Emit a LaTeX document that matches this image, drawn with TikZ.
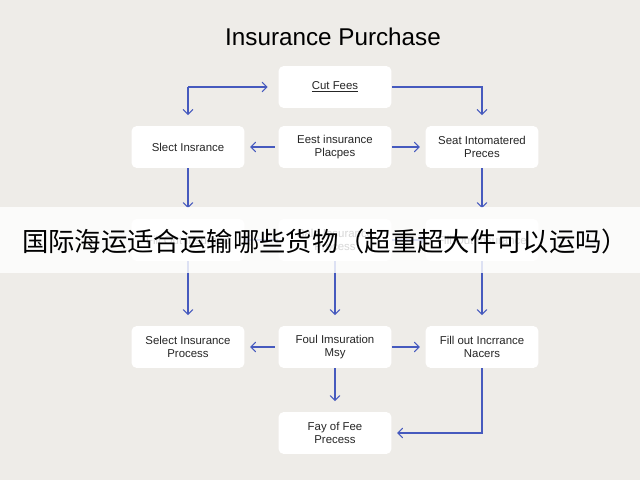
\documentclass[tikz,border=0pt]{standalone}
\usepackage{fontspec}
\setmainfont{Liberation Sans}
\newfontfamily\cjk{Noto Sans CJK SC}
\usetikzlibrary{arrows}
\definecolor{paper}{RGB}{238,236,232}
\definecolor{linkblue}{RGB}{70,90,190}
\tikzstyle{box} = [rectangle, rounded corners=3pt, minimum width=2.26cm, minimum height=0.84cm, text centered, align=center, fill=white, font=\fontsize{6.5}{7.5}\selectfont, text=black!85]
\tikzstyle{arrow} = [draw=linkblue, semithick, ->, >=angle 90]

\begin{document}
\begin{tikzpicture}[x=0.02cm, y=-0.02cm]
\fill[paper] (0,0) rectangle (640,480);
\useasboundingbox (0,0) rectangle (640,480);

\node (title) at (333,37) {\fontsize{13.8}{15}\selectfont Insurance Purchase};

% Row 1
\node (cutFees) [box] at (335,87) {\underline{Cut Fees}};

% Row 2
\node (selInsr) [box] at (188,147) {Slect Insrance};
\node (eastIns) [box] at (335,147) {Eest insurance\\Placpes};
\node (seatInt) [box] at (482,147) {Seat Intomatered\\Preces};

% Row 3 (under the banner)
\node (fillOutA) [box] at (188,240) {Fill Out Insurand};
\node (saleIns) [box] at (335,240) {Sale Insurance\\Process};
\node (fillOutB) [box] at (482,240) {Fill Out Insurance};

% Row 4
\node (selProc) [box] at (188,347) {Select Insurance\\Process};
\node (foulIns) [box] at (335,347) {Foul Imsuration\\Msy};
\node (fillNac) [box] at (482,347) {Fill out Incrrance\\Nacers};

% Row 5
\node (payFee) [box] at (335,433) {Fay of Fee\\Precess};

\coordinate (cornerL) at (188,87);

% Row 1 - Arrows
\draw [arrow] (cornerL) -- ([xshift=-6pt]cutFees.west);
\draw [arrow] (cornerL) -- ([yshift=6pt]selInsr.north);
\draw [arrow] (cutFees.east) -| ([yshift=6pt]seatInt.north);

% Row 2 - Arrows
\draw [arrow] ([xshift=-2pt]eastIns.west) -- ([xshift=3pt]selInsr.east);
\draw [arrow] (eastIns.east) -- ([xshift=-3pt]seatInt.west);
\draw [arrow] (selInsr) -- ([yshift=6pt]fillOutA.north);
\draw [arrow] (seatInt) -- ([yshift=6pt]fillOutB.north);

% Row 3 - Arrows
\draw [arrow] (saleIns.west) -- (fillOutA.east);
\draw [arrow] (saleIns.east) -- (fillOutB.west);
\draw [arrow] (fillOutA) -- ([yshift=6pt]selProc.north);
\draw [arrow] (saleIns) -- ([yshift=6pt]foulIns.north);
\draw [arrow] (fillOutB) -- ([yshift=6pt]fillNac.north);

% Row 4 - Arrows
\draw [arrow] ([xshift=-2pt]foulIns.west) -- ([xshift=3pt]selProc.east);
\draw [arrow] (foulIns.east) -- ([xshift=-3pt]fillNac.west);
\draw [arrow] (foulIns) -- ([yshift=6pt]payFee.north);
\draw [arrow] (fillNac.south) |- ([xshift=3pt]payFee.east);

% Banner
\fill[white, opacity=0.82] (0,207) rectangle (640,273);
\node (banner) [anchor=west] at (16,241) {\cjk\fontsize{15}{17}\selectfont 国际海运适合运输哪些货物（超重超大件可以运吗）};
\end{tikzpicture}
\end{document}
